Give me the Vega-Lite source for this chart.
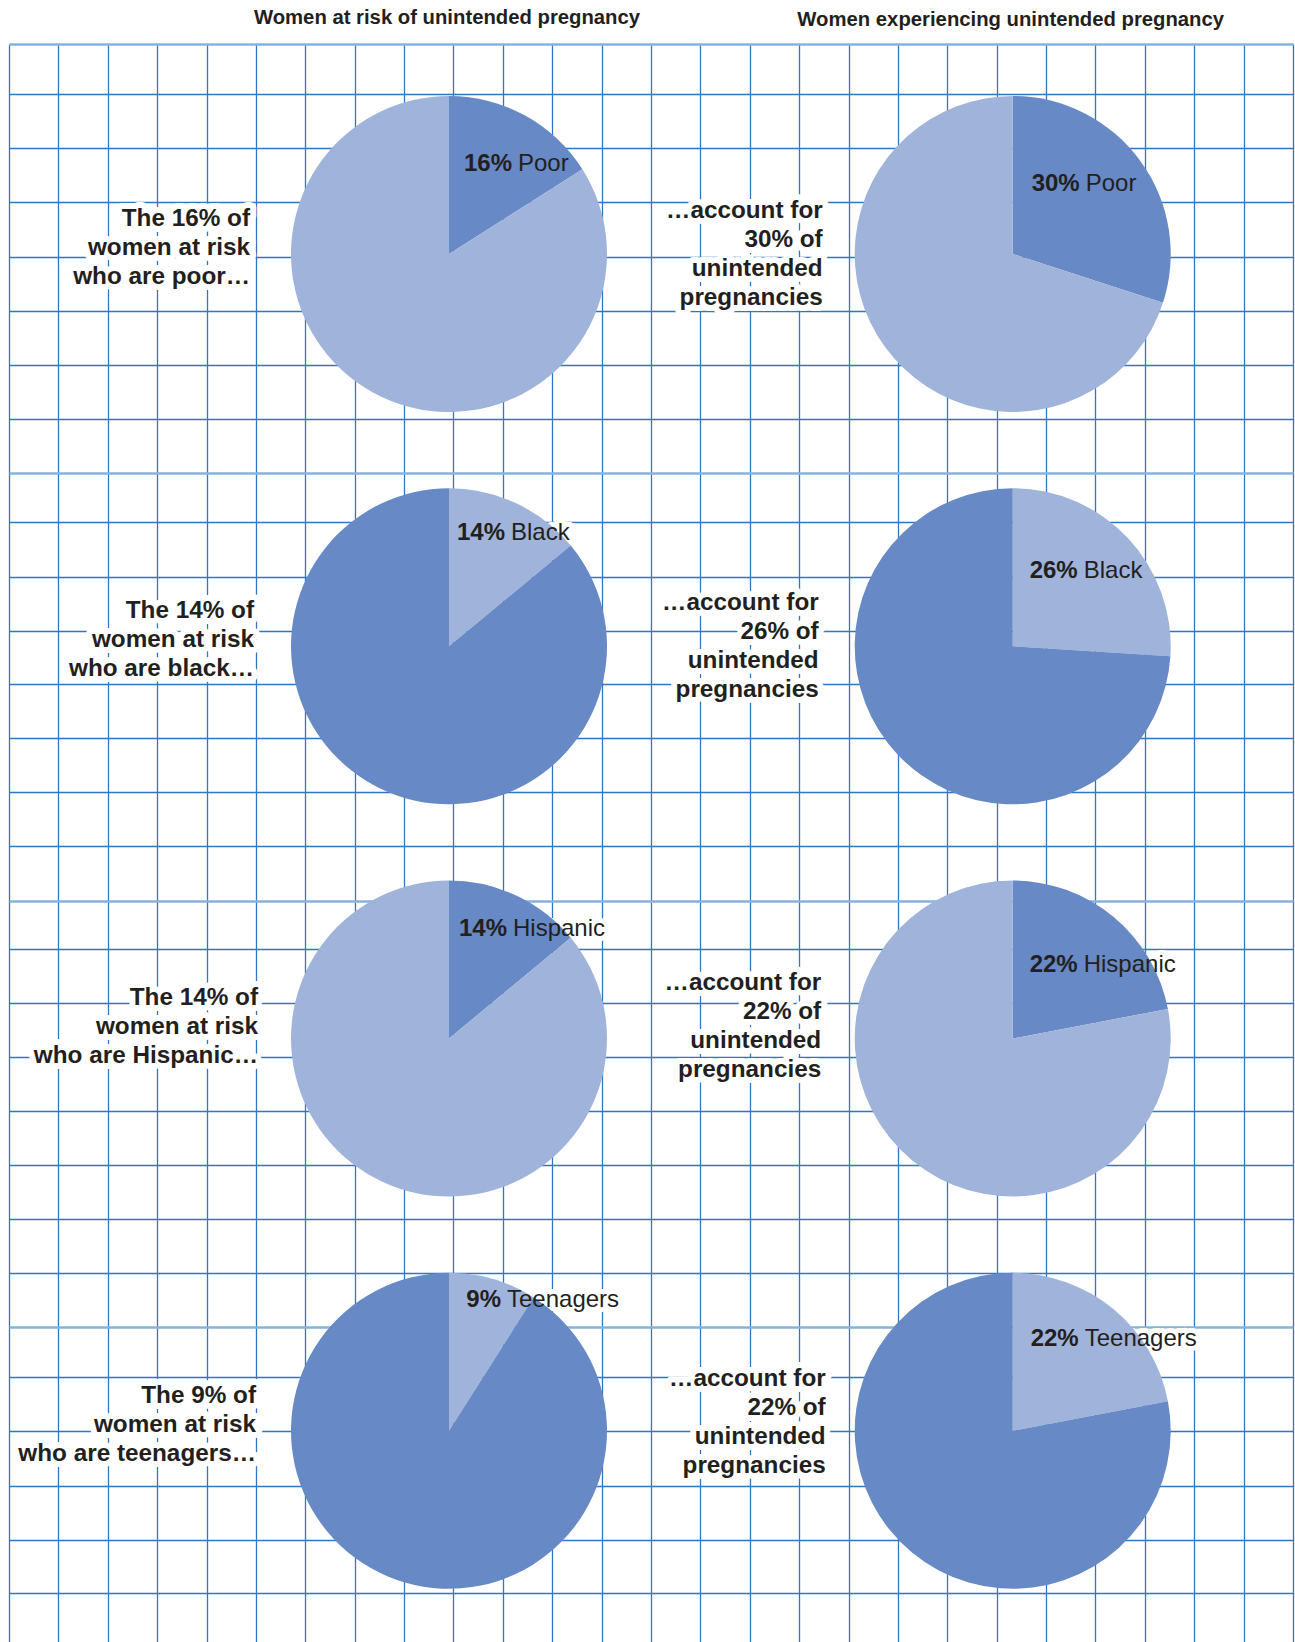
{
  "$schema": "https://vega.github.io/schema/vega-lite/v6.json",
  "width": 1284,
  "height": 1598,
  "autosize": {"type": "none"},
  "padding": {"left": 9, "top": 44, "right": 2, "bottom": 0},
  "background": "white",
  "config": {"view": {"stroke": null}},
  "datasets": {
    "pies": [
      {"panel": "Women at risk of unintended pregnancy", "category": "Poor", "group_share": 0.16, "other_share": 0.84, "note": "The 16% of\nwomen at risk\nwho are poor…"},
      {"panel": "Women at risk of unintended pregnancy", "category": "Black", "group_share": 0.14, "other_share": 0.86, "note": "The 14% of\nwomen at risk\nwho are black…"},
      {"panel": "Women at risk of unintended pregnancy", "category": "Hispanic", "group_share": 0.14, "other_share": 0.86, "note": "The 14% of\nwomen at risk\nwho are Hispanic…"},
      {"panel": "Women at risk of unintended pregnancy", "category": "Teenagers", "group_share": 0.09, "other_share": 0.91, "note": "The 9% of\nwomen at risk\nwho are teenagers…"},
      {"panel": "Women experiencing unintended pregnancy", "category": "Poor", "group_share": 0.30, "other_share": 0.70, "note": "…account for\n30% of\nunintended\npregnancies"},
      {"panel": "Women experiencing unintended pregnancy", "category": "Black", "group_share": 0.26, "other_share": 0.74, "note": "…account for\n26% of\nunintended\npregnancies"},
      {"panel": "Women experiencing unintended pregnancy", "category": "Hispanic", "group_share": 0.22, "other_share": 0.78, "note": "…account for\n22% of\nunintended\npregnancies"},
      {"panel": "Women experiencing unintended pregnancy", "category": "Teenagers", "group_share": 0.22, "other_share": 0.78, "note": "…account for\n22% of\nunintended\npregnancies"}
    ]
  },
  "layer": [
    {
      "data": {"values": [{}]},
      "mark": {"type": "point", "opacity": 0},
      "encoding": {
        "x": {
          "datum": 0, "type": "quantitative",
          "scale": {"domain": [0, 26], "nice": false, "zero": false},
          "axis": {"values": [0,1,2,3,4,5,6,7,8,9,10,11,12,13,14,15,16,17,18,19,20,21,22,23,24,25,26], "grid": true, "gridColor": "#2f77c4", "gridWidth": 1.3, "gridOpacity": 1, "labels": false, "ticks": false, "domain": false, "title": null}
        },
        "y": {
          "datum": 0, "type": "quantitative",
          "scale": {"domain": [0, 1598], "nice": false, "zero": false, "reverse": true},
          "axis": {
            "values": [0.3, 50.3, 104, 158, 212.7, 266.7, 320.7, 374.7, 428.7, 478.3, 532.7, 586.7, 640.3, 694.3, 748.3, 802, 856.7, 905, 958.7, 1013.3, 1067, 1121, 1175, 1229.3, 1283.3, 1333.3, 1387, 1441.7, 1496, 1549.3],
            "grid": true,
            "gridColor": {"condition": {"test": "datum.value === 0.3 || datum.value === 428.7 || datum.value === 856.7 || datum.value === 1283.3", "value": "#86b3de"}, "value": "#2f77c4"},
            "gridWidth": {"condition": {"test": "datum.value === 0.3 || datum.value === 428.7 || datum.value === 856.7 || datum.value === 1283.3", "value": 2.6}, "value": 1.3},
            "gridOpacity": 1, "labels": false, "ticks": false, "domain": false, "title": null
          }
        }
      }
    },
    {
      "data": {"name": "pies"},
      "encoding": {
        "x": {
          "field": "panel", "type": "nominal",
          "scale": {"type": "point", "domain": ["Women at risk of unintended pregnancy", "Women experiencing unintended pregnancy"], "range": [440, 1003.7], "padding": 0},
          "axis": {"orient": "top", "title": null, "domain": false, "ticks": false, "tickSize": 0, "grid": false, "labelFont": "Liberation Sans", "labelFontWeight": "bold", "labelFontSize": 20.3, "labelColor": "#231f20",
            "labelPadding": {"condition": {"test": "datum.value === 'Women at risk of unintended pregnancy'", "value": 20.5}, "value": 18.5},
            "labelBaseline": "alphabetic", "labelAngle": 0, "labelOffset": -2.5, "labelLimit": 0, "labelOverlap": false}
        },
        "y": {
          "field": "category", "type": "nominal",
          "scale": {"type": "point", "domain": ["Poor", "Black", "Hispanic", "Teenagers"], "range": [210, 1386.8], "padding": 0},
          "axis": null
        }
      },
      "layer": [
        {
          "mark": {"type": "text", "align": "right", "baseline": "alphabetic", "lineBreak": "\n", "lineHeight": 29, "font": "Liberation Sans", "fontWeight": "bold", "fontSize": 24.3, "fill": "white", "stroke": "white", "strokeWidth": 12, "strokeJoin": "round",
            "dx": {"expr": "datum.panel === 'Women at risk of unintended pregnancy' ? (datum.category === 'Poor' ? -199 : datum.category === 'Black' ? -195 : datum.category === 'Hispanic' ? -191 : -193) : (datum.category === 'Poor' ? -190 : datum.category === 'Black' ? -194 : datum.category === 'Hispanic' ? -191.5 : -187)"},
            "dy": {"expr": "datum.panel === 'Women at risk of unintended pregnancy' ? (datum.category === 'Poor' ? -28 : datum.category === 'Black' ? -28 : datum.category === 'Hispanic' ? -33.5 : -28) : (datum.category === 'Poor' ? -36 : datum.category === 'Black' ? -36 : datum.category === 'Hispanic' ? -49 : -45)"}},
          "encoding": {"text": {"field": "note", "type": "nominal"}}
        },
        {
          "mark": {"type": "text", "align": "right", "baseline": "alphabetic", "lineBreak": "\n", "lineHeight": 29, "font": "Liberation Sans", "fontWeight": "bold", "fontSize": 24.3, "fill": "#231f20",
            "dx": {"expr": "datum.panel === 'Women at risk of unintended pregnancy' ? (datum.category === 'Poor' ? -199 : datum.category === 'Black' ? -195 : datum.category === 'Hispanic' ? -191 : -193) : (datum.category === 'Poor' ? -190 : datum.category === 'Black' ? -194 : datum.category === 'Hispanic' ? -191.5 : -187)"},
            "dy": {"expr": "datum.panel === 'Women at risk of unintended pregnancy' ? (datum.category === 'Poor' ? -28 : datum.category === 'Black' ? -28 : datum.category === 'Hispanic' ? -33.5 : -28) : (datum.category === 'Poor' ? -36 : datum.category === 'Black' ? -36 : datum.category === 'Hispanic' ? -49 : -45)"}},
          "encoding": {"text": {"field": "note", "type": "nominal"}}
        },
        {
          "mark": {"type": "text", "align": "right", "baseline": "alphabetic", "font": "Liberation Sans", "fontWeight": "bold", "fontSize": 24, "fill": "white", "stroke": "white", "strokeWidth": 10, "strokeJoin": "round",
            "dx": {"expr": "datum.panel === 'Women at risk of unintended pregnancy' ? (datum.category === 'Poor' ? 63 : datum.category === 'Black' ? 56 : datum.category === 'Hispanic' ? 58 : 52) : (datum.category === 'Poor' ? 67 : datum.category === 'Black' ? 65 : datum.category === 'Hispanic' ? 65 : 66)"},
            "dy": {"expr": "datum.panel === 'Women at risk of unintended pregnancy' ? (datum.category === 'Poor' ? -83 : datum.category === 'Black' ? -106 : datum.category === 'Hispanic' ? -103 : -124) : (datum.category === 'Poor' ? -63 : datum.category === 'Black' ? -68 : datum.category === 'Hispanic' ? -67 : -85)"}},
          "encoding": {"text": {"field": "group_share", "type": "quantitative", "format": ".0%"}}
        },
        {
          "mark": {"type": "text", "align": "left", "baseline": "alphabetic", "font": "Liberation Sans", "fontWeight": "normal", "fontSize": 24, "fill": "white", "stroke": "white", "strokeWidth": 10, "strokeJoin": "round",
            "dx": {"expr": "datum.panel === 'Women at risk of unintended pregnancy' ? (datum.category === 'Poor' ? 69 : datum.category === 'Black' ? 62 : datum.category === 'Hispanic' ? 64 : 58) : (datum.category === 'Poor' ? 73 : datum.category === 'Black' ? 71 : datum.category === 'Hispanic' ? 71 : 72)"},
            "dy": {"expr": "datum.panel === 'Women at risk of unintended pregnancy' ? (datum.category === 'Poor' ? -83 : datum.category === 'Black' ? -106 : datum.category === 'Hispanic' ? -103 : -124) : (datum.category === 'Poor' ? -63 : datum.category === 'Black' ? -68 : datum.category === 'Hispanic' ? -67 : -85)"}},
          "encoding": {"text": {"field": "category", "type": "nominal"}}
        },
        {
          "transform": [
            {"fold": ["group_share", "other_share"], "as": ["slice", "share"]},
            {"stack": "share", "groupby": ["panel", "category"], "sort": [{"field": "slice", "order": "ascending"}], "as": ["share_start", "share_end"]}
          ],
          "mark": {"type": "arc", "radius": 158},
          "encoding": {
            "theta": {"field": "share_start", "type": "quantitative", "scale": {"domain": [0, 1]}},
            "theta2": {"field": "share_end"},
            "color": {"condition": {"test": "(datum.slice === 'group_share') === (datum.category === 'Poor' || datum.category === 'Hispanic')", "value": "#6789c6"}, "value": "#a0b3da"}
          }
        },
        {
          "mark": {"type": "text", "align": "right", "baseline": "alphabetic", "font": "Liberation Sans", "fontWeight": "bold", "fontSize": 24, "fill": "#231f20",
            "dx": {"expr": "datum.panel === 'Women at risk of unintended pregnancy' ? (datum.category === 'Poor' ? 63 : datum.category === 'Black' ? 56 : datum.category === 'Hispanic' ? 58 : 52) : (datum.category === 'Poor' ? 67 : datum.category === 'Black' ? 65 : datum.category === 'Hispanic' ? 65 : 66)"},
            "dy": {"expr": "datum.panel === 'Women at risk of unintended pregnancy' ? (datum.category === 'Poor' ? -83 : datum.category === 'Black' ? -106 : datum.category === 'Hispanic' ? -103 : -124) : (datum.category === 'Poor' ? -63 : datum.category === 'Black' ? -68 : datum.category === 'Hispanic' ? -67 : -85)"}},
          "encoding": {"text": {"field": "group_share", "type": "quantitative", "format": ".0%"}}
        },
        {
          "mark": {"type": "text", "align": "left", "baseline": "alphabetic", "font": "Liberation Sans", "fontWeight": "normal", "fontSize": 24, "fill": "#231f20",
            "dx": {"expr": "datum.panel === 'Women at risk of unintended pregnancy' ? (datum.category === 'Poor' ? 69 : datum.category === 'Black' ? 62 : datum.category === 'Hispanic' ? 64 : 58) : (datum.category === 'Poor' ? 73 : datum.category === 'Black' ? 71 : datum.category === 'Hispanic' ? 71 : 72)"},
            "dy": {"expr": "datum.panel === 'Women at risk of unintended pregnancy' ? (datum.category === 'Poor' ? -83 : datum.category === 'Black' ? -106 : datum.category === 'Hispanic' ? -103 : -124) : (datum.category === 'Poor' ? -63 : datum.category === 'Black' ? -68 : datum.category === 'Hispanic' ? -67 : -85)"}},
          "encoding": {"text": {"field": "category", "type": "nominal"}}
        }
      ]
    }
  ],
  "resolve": {"scale": {"x": "independent", "y": "independent"}, "axis": {"x": "independent", "y": "independent"}}
}
